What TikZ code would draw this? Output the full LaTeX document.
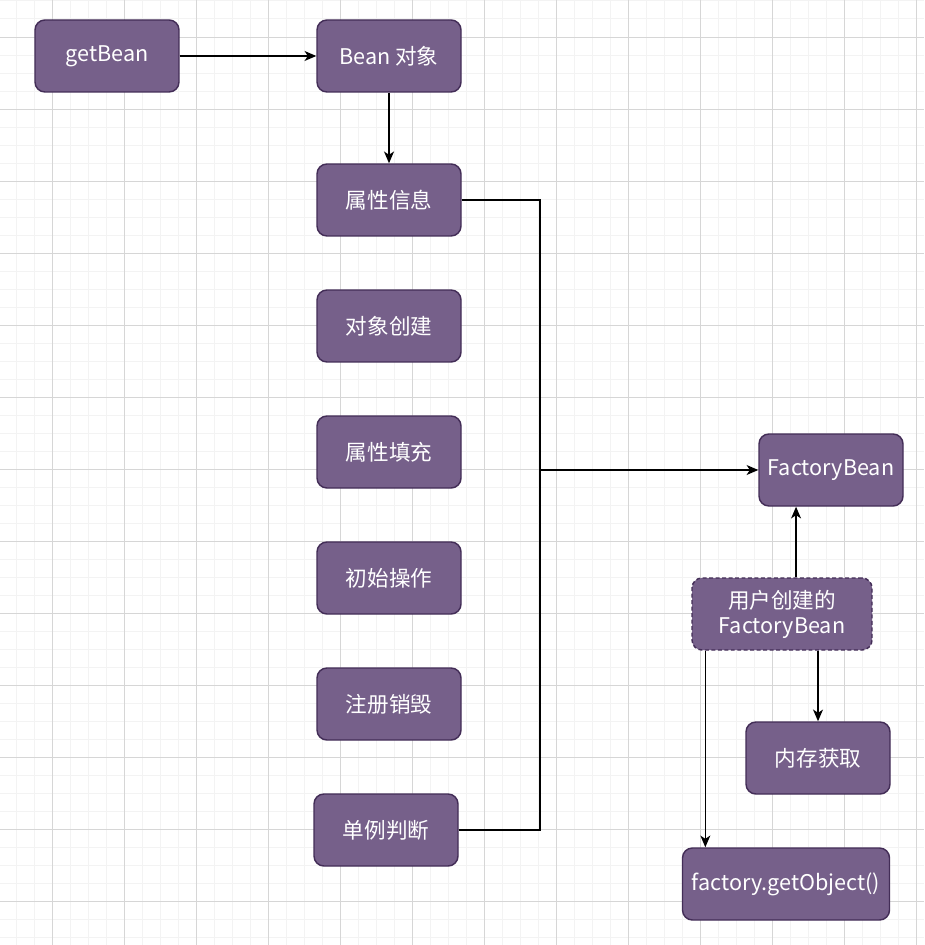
\documentclass[tikz,border=0pt]{standalone}
\usepackage{fontspec}
\setmainfont{Noto Sans CJK SC}
\usepackage{tikz}
\usetikzlibrary{arrows.meta}
\definecolor{boxfill}{HTML}{76608A}
\definecolor{boxline}{HTML}{432D57}
\definecolor{gridminor}{HTML}{F3F3F3}
\definecolor{gridmajor}{HTML}{D6D6D6}

\begin{document}
\begin{tikzpicture}[x=0.5556pt,y=-0.5556pt,
  box/.style={draw=boxline, fill=boxfill, line width=0.8pt, rounded corners=5.5pt,
    minimum width=80pt, minimum height=40pt, inner sep=0pt, text=white, align=center,
    font=\fontsize{12}{14}\selectfont},
  dashbox/.style={box, dash pattern=on 2.2pt off 1.4pt},
  arr/.style={draw, line width=0.8pt, -{Stealth[length=6.5pt,width=5.5pt,inset=1.8pt]}},
  conn/.style={draw, line width=0.8pt}]
\useasboundingbox (0,0) rectangle (924,945);
\fill[white] (0,0) rectangle (924,945);
\foreach \x in {16,34,...,924} \draw[gridminor, line width=0.55pt] (\x,0) -- (\x,945);
\foreach \y in {1,19,...,945} \draw[gridminor, line width=0.55pt] (0,\y) -- (924,\y);
\foreach \x in {52,124,...,924} \draw[gridmajor, line width=0.55pt] (\x,0) -- (\x,945);
\foreach \y in {37,109,...,945} \draw[gridmajor, line width=0.55pt] (0,\y) -- (924,\y);

\node[box] (get) at (107,56) {getBean};
\node[box] (bean) at (389,56) {Bean 对象};
\node[box] (attr) at (389,200) {属性信息};
\node[box] (create) at (389,326) {对象创建};
\node[box] (fill) at (389,452) {属性填充};
\node[box] (init) at (389,578) {初始操作};
\node[box] (reg) at (389,704) {注册销毁};
\node[box] (single) at (386,830) {单例判断};
\node[box] (fb) at (831,470) {FactoryBean};
\node[dashbox, minimum width=100pt] (user) at (782,614) {用户创建的\\FactoryBean};
\node[box] (mem) at (818,758) {内存获取};
\node[box, minimum width=115pt] (obj) at (786,884) {factory.getObject()};
\coordinate (junc) at (540,470);

\draw[arr] (get) -- (bean);
\draw[arr] (bean) -- (attr);
\draw[arr] (attr.east) -| (junc) -- (fb.west);
\draw[conn] (single.east) -| (junc);
\draw[arr] ([xshift=7.8pt]user.north) -- ([xshift=7.8pt]user.north |- fb.south);
\draw[arr] (mem.north |- user.south) -- (mem.north);
\draw[arr] ([xshift=7.8pt]user.south west) -- ([xshift=7.8pt]user.south west |- obj.north);
\end{tikzpicture}
\end{document}
